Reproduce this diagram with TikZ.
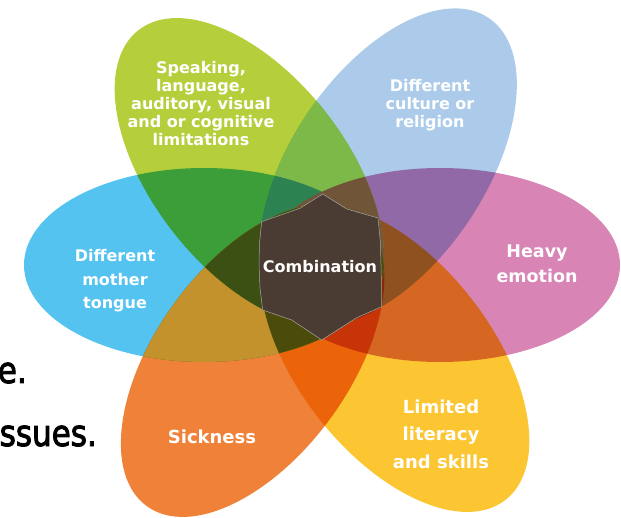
\documentclass[tikz,border=0pt]{standalone}
\usepackage{fontspec}
\setmainfont{DejaVu Sans}
\newfontfamily\slidefont[FakeStretch=0.85, FakeBold=2.5]{DejaVu Sans}
\usetikzlibrary{positioning}
\definecolor{tonguecol}{RGB}{84,195,240}
\definecolor{emotioncol}{RGB}{216,133,182}
\definecolor{speakcol}{RGB}{181,207,60}
\definecolor{culturecol}{RGB}{172,203,234}
\definecolor{sickcol}{RGB}{239,130,56}
\definecolor{skillcol}{RGB}{252,198,50}
\definecolor{goldcol}{RGB}{195,146,44}
\definecolor{olivecol}{RGB}{60,80,20}
\definecolor{mosscol}{RGB}{76,76,10}
\definecolor{leafcol}{RGB}{124,185,72}
\definecolor{pinecol}{RGB}{44,130,80}
\definecolor{barkcol}{RGB}{112,85,57}
\definecolor{centrecol}{RGB}{74,60,50}
\tikzset{
petal/.style={x radius=180, y radius=97}, % size of every petal
petaltext/.style={ % white bold text on the petals
text=white,
align=center,
inner sep=0pt,
font=\bfseries\fontsize{16}{18}\selectfont},
slidetext/.style={
anchor=base east,
inner sep=0pt,
font=\slidefont\fontsize{36.5}{40}\selectfont}}

\begin{document}
\begin{tikzpicture}[x=1pt, y=-1pt]
\useasboundingbox (0,0) rectangle (621,518);
\coordinate (tonguec) at (204,265);
\coordinate (emotionc) at (440,265);
\coordinate (speakc) at (249.3,172);
\coordinate (culturec) at (388,167.2);
\coordinate (sickc) at (252.6,360.5);
\coordinate (skillc) at (394.7,358);
% the six petals, overlaps by multiply
\begin{scope}[blend group=multiply]
\fill[tonguecol] (tonguec) ellipse[petal];
\fill[emotioncol] (emotionc) ellipse[petal];
\fill[speakcol, rotate around={-52:(speakc)}] (speakc) ellipse[petal];
\fill[culturecol, rotate around={56:(culturec)}] (culturec) ellipse[petal];
\fill[sickcol, rotate around={54:(sickc)}] (sickc) ellipse[petal];
\fill[skillcol, rotate around={-52:(skillc)}] (skillc) ellipse[petal];
\end{scope}
% speaking and culture meet in leaf green
\begin{scope}
\clip[rotate around={-52:(speakc)}] (speakc) ellipse[petal];
\clip[rotate around={56:(culturec)}] (culturec) ellipse[petal];
\fill[leafcol] (0,0) rectangle (621,518);
\begin{scope}
\clip (tonguec) ellipse[petal];
\fill[pinecol] (0,0) rectangle (621,518);
\end{scope}
\clip (emotionc) ellipse[petal];
\fill[barkcol] (0,0) rectangle (621,518);
\end{scope}
% mother tongue and sickness meet in gold
\begin{scope}
\clip (tonguec) ellipse[petal];
\clip[rotate around={54:(sickc)}] (sickc) ellipse[petal];
\fill[goldcol] (0,0) rectangle (621,518);
\begin{scope}
\clip[rotate around={-52:(speakc)}] (speakc) ellipse[petal];
\fill[olivecol] (0,0) rectangle (621,518);
\end{scope}
\clip[rotate around={-52:(skillc)}] (skillc) ellipse[petal];
\fill[mosscol] (0,0) rectangle (621,518);
\end{scope}
% centre piece
\filldraw[fill=centrecol, draw=gray!70, line width=0.5pt]
(322.7,194) -- (300,208.3) -- (261.7,221.7) -- (259.5,243) -- (259,265)
-- (260,288) -- (262.7,310) -- (291.7,320) -- (321.7,340) -- (356.7,317.7)
-- (381.7,306.7) -- (381.5,287) -- (381,265) -- (380.3,241) -- (378,218)
-- (346.7,209) -- cycle;

\node[petaltext] (combination) at (320,267) {Combination};
\node[petaltext] (speaking) at (201,104) {Speaking,\\language,\\auditory, visual\\and or cognitive\\limitations};
\node[petaltext] (culture) at (430,105) {Different\\culture or\\religion};
\node[petaltext, font=\bfseries\fontsize{16}{23.5}\selectfont] (tongue) at (115,281) {Different\\mother\\tongue};
\node[petaltext, font=\bfseries\fontsize{17.5}{25}\selectfont] (emotion) at (537,264) {Heavy\\emotion};
\node[petaltext, font=\bfseries\fontsize{18}{20}\selectfont] (sickness) at (212,437) {Sickness};
\node[petaltext, font=\bfseries\fontsize{18}{27.5}\selectfont] (literacy) at (441,434) {Limited\\literacy\\and skills};

\node[slidetext] (slidee) at (27,383) {e.};
\node[slidetext] (issues) at (97,446) {ssues.};
\end{tikzpicture}
\end{document}
